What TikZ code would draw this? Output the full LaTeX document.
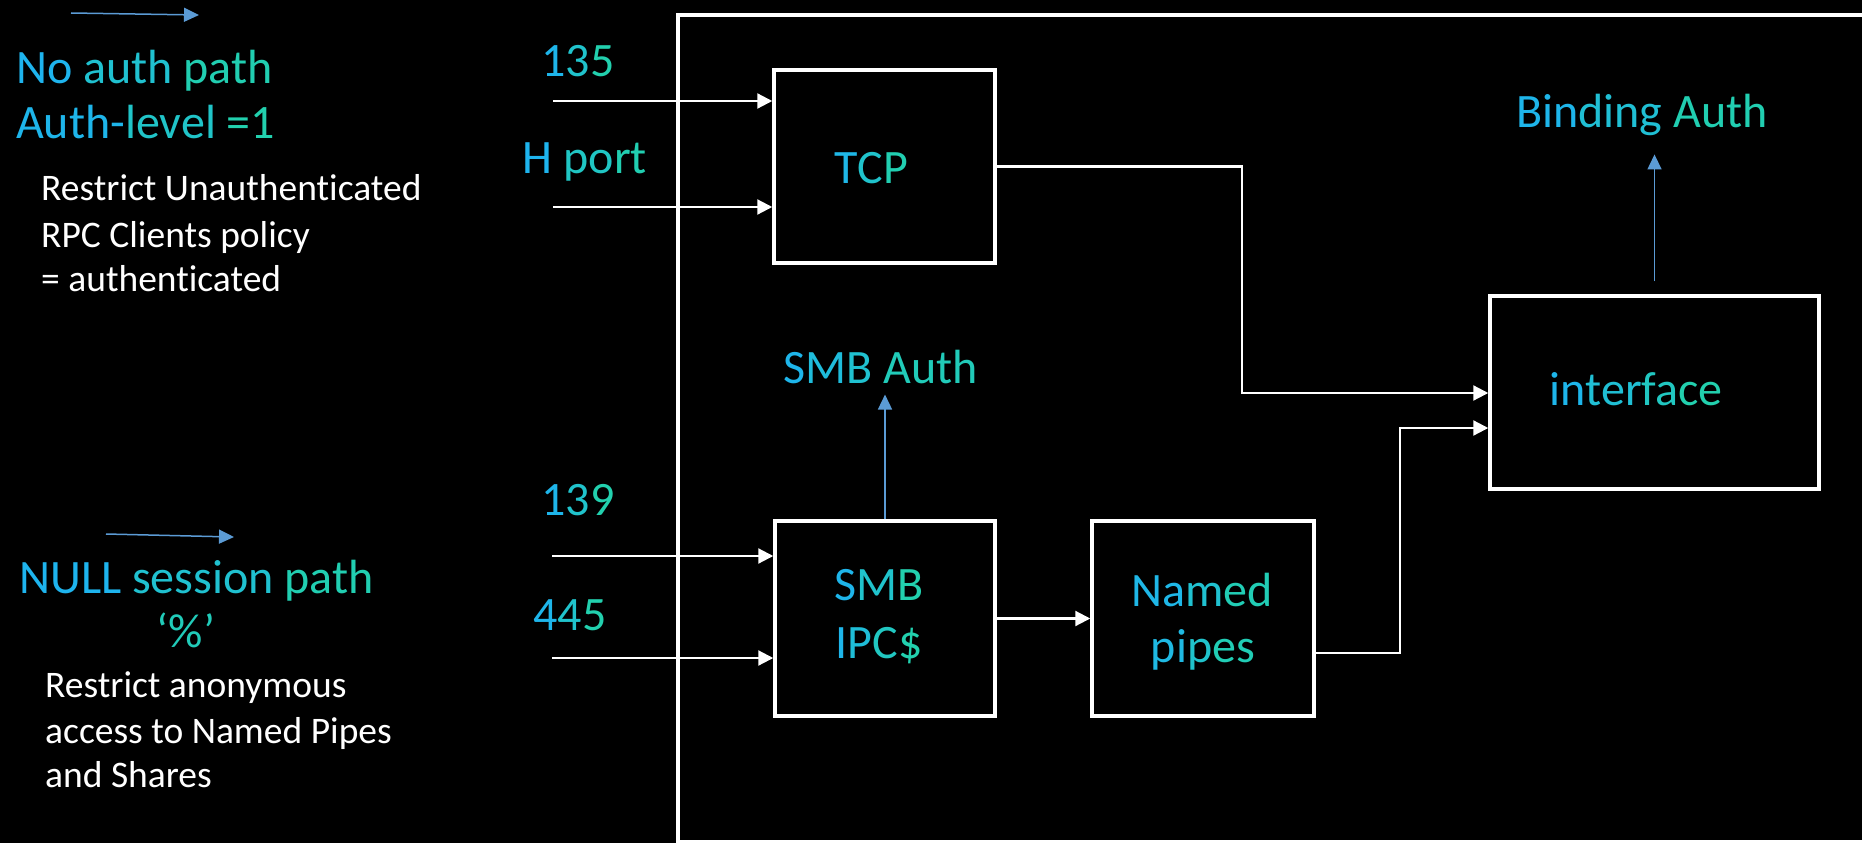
\documentclass[tikz,border=0pt]{standalone}
\usepackage{fontspec}
\setmainfont{Carlito}[Ligatures=CommonOff]
\usetikzlibrary{arrows.meta,calc}
\definecolor{cblue}{HTML}{1EB2F2}
\definecolor{cteal}{HTML}{22D3A6}
\definecolor{arrowblue}{HTML}{5B9BD5}
\newcommand\gc[2]{\textcolor{cblue!#1!cteal}{#2}}
\begin{document}
\begin{tikzpicture}[x=1pt,y=-1pt,
  box/.style={draw=white,line width=3.5pt,inner sep=0pt},
  conn/.style={draw=white,line width=2.2pt,-{Triangle[length=15pt,width=15pt]}},
  barrow/.style={draw=arrowblue,line width=1.5pt,-{Triangle[length=15pt,width=14pt]}},
  lbl/.style={inner sep=0pt,font=\fontsize{48}{56}\selectfont},
  note/.style={inner sep=0pt,text=white,anchor=base west,font=\fontsize{37.5}{45}\selectfont}]
\useasboundingbox (0,0) rectangle (1862,843);
\fill[black] (0,0) rectangle (1862,843);
\begin{scope}
\clip (0,0) rectangle (1862,843);
\draw[white,line width=4pt] (678,15) rectangle (1880,842);
\end{scope}

% boxes
\node[box,minimum width=221pt,minimum height=193pt] (tcp) at (884.5,166.5) {};
\node[box,minimum width=220pt,minimum height=195pt] (smb) at (885,618.5) {};
\node[box,minimum width=222pt,minimum height=195pt] (np) at (1203,618.5) {};
\node[box,minimum width=329pt,minimum height=193pt] (iface) at (1654.5,392.5) {};

% box texts
\node[lbl,anchor=base] (tcptxt) at (871,183) {\gc{85}{T}\gc{50}{C}\gc{15}{P}};
\node[lbl,anchor=base] (smbtxtA) at (879,600) {\gc{90}{S}\gc{50}{M}\gc{10}{B}};
\node[lbl,anchor=base] (smbtxtB) at (879,658) {\gc{90}{I}\gc{65}{P}\gc{35}{C}\gc{10}{\$}};
\node[lbl,anchor=base] (nptxtA) at (1202,606) {\gc{85}{Na}\gc{55}{m}\gc{20}{ed}};
\node[lbl,anchor=base] (nptxtB) at (1203,662) {\gc{80}{pi}\gc{50}{p}\gc{20}{es}};
\node[lbl,anchor=base] (iftxt) at (1636,405) {\gc{90}{in}\gc{60}{ter}\gc{35}{fa}\gc{10}{ce}};

% labels
\node[lbl,anchor=base] (t135) at (578,77) {\gc{90}{1}\gc{50}{3}\gc{10}{5}};
\node[lbl,anchor=base] (thport) at (585,173) {\gc{95}{H} \gc{40}{po}\gc{15}{rt}};
\node[lbl,anchor=base] (t139) at (578,515) {\gc{90}{1}\gc{50}{3}\gc{10}{9}};
\node[lbl,anchor=base] (t445) at (570,630) {\gc{90}{4}\gc{50}{4}\gc{10}{5}};
\node[lbl,anchor=base] (smbauth) at (881,383) {\gc{90}{S}\gc{70}{M}\gc{55}{B} \gc{25}{Auth}};
\node[lbl,anchor=base] (bind) at (1642,127) {\gc{90}{Bin}\gc{60}{ding} \gc{15}{Auth}};

% left notes
\node[lbl,anchor=base west] (noauthA) at (16,83) {\gc{95}{No} \gc{55}{auth} \gc{15}{path}};
\node[lbl,anchor=base west] (noauthB) at (16,138) {\gc{90}{Auth-}\gc{45}{level} \gc{10}{=1}};
\node[note] (rA1) at (41,200) {Restrict Unauthenticated};
\node[note] (rA2) at (41,247) {RPC Clients policy};
\node[note] (rA3) at (41,291) {= authenticated};
\node[lbl,anchor=base west] (nullA) at (19,593) {\gc{95}{NULL} \gc{55}{session} \gc{15}{path}};
\node[lbl,anchor=base] (pct) at (186,647) {\gc{25}{‘\%’}};
\node[note] (rB1) at (45,697) {Restrict anonymous};
\node[note] (rB2) at (45,743) {access to Named Pipes};
\node[note] (rB3) at (45,787) {and Shares};

% input arrows
\coordinate (i135) at (553,101);
\coordinate (ih) at (553,207);
\coordinate (i139) at (552,556);
\coordinate (i445) at (552,658);
\draw[conn] (i135) -- (i135 -| tcp.west);
\draw[conn] (ih) -- (ih -| tcp.west);
\draw[conn] (i139) -- (i139 -| smb.west);
\draw[conn] (i445) -- (i445 -| smb.west);

% internal connectors
\coordinate (j1) at (1242,393);
\draw[conn] (tcp.east) -| (j1) -- (j1 -| iface.west);
\coordinate (y653) at (0,653);
\coordinate (j2) at (1400,428);
\draw[conn] (np.east |- y653) -| (j2) -- (j2 -| iface.west);
\draw[conn] (smb.east) -- (np.west);

% blue arrows
\draw[barrow,shorten >=11pt] (smb.north) -- (smb.north |- smbauth.south);
\draw[barrow,shorten <=13pt,shorten >=19pt] (iface.north) -- (iface.north |- bind.south);
\coordinate (a1s) at (71,13);
\coordinate (a1e) at (199,15);
\draw[barrow] (a1s) -- (a1e);
\coordinate (a2s) at (106,534);
\coordinate (a2e) at (234,537);
\draw[barrow] (a2s) -- (a2e);
\end{tikzpicture}
\end{document}
